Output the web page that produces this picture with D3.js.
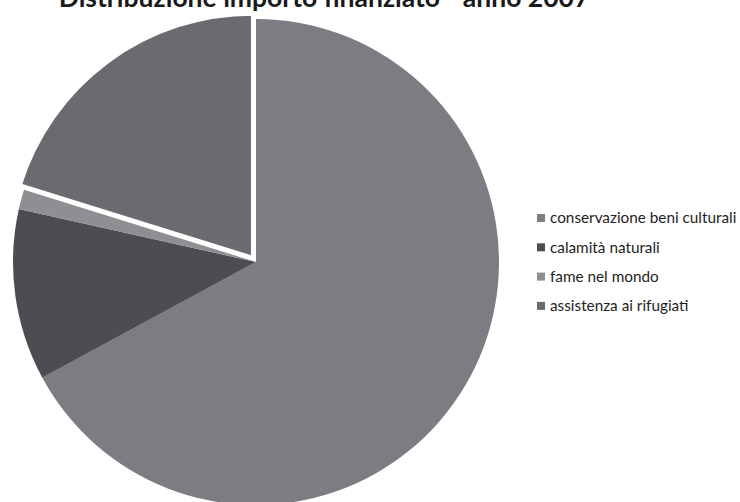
<!DOCTYPE html>
<html>
<head>
<meta charset="utf-8">
<script src="https://cdn.jsdelivr.net/npm/d3@7/dist/d3.min.js"></script>
<style>
  body { margin: 0; background: #fff; }
  svg { display: block; }
</style>
</head>
<body>
<svg id="chart"></svg>
<script>
// data (share of funded amount, %)
var titleText = 'Distribuzione importo finanziato - anno 2007';
var categories = ['conservazione beni culturali', 'calamità naturali', 'fame nel mondo', 'assistenza ai rifugiati'];
var values = [67.1, 11.4, 1.3, 20.2];
var colors = ['#7c7c82', '#4c4c52', '#8e8e93', '#6a6a70'];
var explodedIndex = 3;

var width = 740, height = 502;
var cx = 256, cy = 262, radius = 243;

var svg = d3.select('#chart').attr('width', width).attr('height', height);

// title (cut at the top in the scan)
svg.append('text')
  .attr('x', 324)
  .attr('y', 7)
  .attr('text-anchor', 'middle')
  .style('font-family', 'Lato, "Open Sans", sans-serif')
  .style('font-weight', 'bold')
  .style('font-size', '26.5px')
  .style('fill', '#1a1a1a')
  .text(titleText);

var data = categories.map(function(c, i) {
  return { name: c, value: values[i], color: colors[i], index: i };
});

var pie = d3.pie().sort(null).value(function(d) { return d.value; });
var arc = d3.arc().innerRadius(0).outerRadius(radius);

var g = svg.append('g').attr('transform', 'translate(' + cx + ',' + cy + ')');

g.selectAll('path.segment')
  .data(pie(data))
  .enter()
  .append('path')
  .attr('class', 'segment')
  .attr('d', arc)
  .attr('fill', function(d) { return d.data.color; })
  .attr('stroke', function(d) { return d.data.index === explodedIndex ? '#fff' : 'none'; })
  .attr('stroke-width', 3)
  .attr('stroke-linejoin', 'miter')
  .attr('transform', function(d) {
    if (d.data.index !== explodedIndex) return null;
    var mid = (d.startAngle + d.endAngle) / 2, off = 6;
    return 'translate(' + (Math.sin(mid) * off) + ',' + (-Math.cos(mid) * off) + ')';
  });

// legend
var legend = svg.append('g').attr('transform', 'translate(537,218)');
var rows = legend.selectAll('g.row')
  .data(data)
  .enter()
  .append('g')
  .attr('class', 'row')
  .attr('transform', function(d, i) { return 'translate(0,' + (i * 29.3) + ')'; });

rows.append('rect')
  .attr('x', 0).attr('y', -4)
  .attr('width', 8).attr('height', 8)
  .attr('fill', function(d) { return d.color; });

rows.append('text')
  .attr('x', 13)
  .attr('y', 0)
  .attr('dy', '0.35em')
  .style('font-family', 'Lato, "Open Sans", sans-serif')
  .style('font-size', '15.3px')
  .style('fill', '#1e1e1e')
  .text(function(d) { return d.name; });
</script>
</body>
</html>
